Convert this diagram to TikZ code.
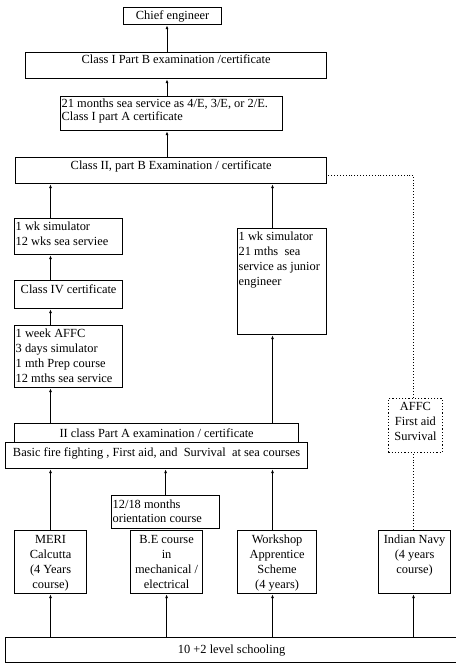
\documentclass[tikz,border=0pt]{standalone}
\usepackage{fontspec}
\setmainfont{Liberation Serif}
\usetikzlibrary{arrows.meta}

\tikzset{
  box/.style={draw, line width=1.2pt, inner sep=0pt, anchor=north west},
  dbox/.style={box, dotted, line width=0.9pt},
  txt/.style={inner sep=0pt, font=\fontsize{12.4}{15}\selectfont, align=left, anchor=north west},
  ctxt/.style={txt, align=center, anchor=north},
  up/.style={draw, line width=1pt, -{Latex[length=4pt,width=3pt]}},
  dots/.style={draw, dotted, line width=0.9pt},
}

% \drawbox[style]{name}{x1}{y1}{x2}{y2}: an empty framed box by its corners
\newcommand\drawbox[6][box]{%
  \node[#1, minimum width={(#5-#3)*1pt}, minimum height={(#6-#4)*1pt}] (#2) at (#3,#4) {};}

\begin{document}
\begin{tikzpicture}[x=1pt, y=-1pt]
\useasboundingbox (0,0) rectangle (455,663);

% column positions of the vertical connectors
\coordinate (lcol) at (50.5,0);
\coordinate (mcol) at (167,0);
\coordinate (rcol) at (272.5,0);
\coordinate (dcol) at (413.5,0);
\coordinate (dtop) at (413.5,175);

% frames
\drawbox{chief}{123}{7}{221}{24}
\drawbox{c1b}{25}{52}{326}{78}
\drawbox{c1a}{60}{96}{282}{130}
\drawbox{c2b}{15}{157}{326}{183}
\drawbox{sim1}{14}{218}{122}{254}
\drawbox{c4}{14}{280}{122}{308}
\drawbox{affc}{14}{325}{122}{387}
\drawbox{jr}{237}{228}{326}{334}
\drawbox[dbox]{navyc}{388}{398}{442}{452}
\drawbox{c2a}{14}{423}{298}{442}
\drawbox{basic}{5}{442}{307}{468}
\drawbox{orient}{111}{495}{219}{528}
\drawbox{meri}{14}{530}{86}{593}
\drawbox{be}{130}{530}{202}{593}
\drawbox{ws}{237}{530}{316}{593}
\drawbox{navy}{378}{530}{450}{593}
\drawbox{school}{5}{637}{457}{662}

% texts
\node[ctxt, anchor=center] (chief-t) at (chief.center) {Chief engineer};
\node[ctxt] (c1b-t) at ([yshift=-3pt]c1b.north) {Class I Part B examination /certificate};
\node[txt, font=\fontsize{12.4}{13}\selectfont] (c1a-t) at ([shift={(1.5pt,-3pt)}]c1a.north west)
  {21 months sea service as 4/E, 3/E, or 2/E.\\Class I part A certificate};
\node[ctxt] (c2b-t) at ([yshift=-4pt]c2b.north) {Class II, part B Examination / certificate};
\node[txt] (sim1-t) at ([shift={(1.5pt,-4pt)}]sim1.north west) {1 wk simulator\\12 wks sea serviee};
\node[ctxt] (c4-t) at ([yshift=-5pt]c4.north) {Class IV certificate};
\node[txt] (affc-t) at ([shift={(1.5pt,-4pt)}]affc.north west)
  {1 week AFFC\\3 days simulator\\1 mth Prep course\\12 mths sea service};
\node[txt] (jr-t) at ([shift={(1.5pt,-4pt)}]jr.north west)
  {1 wk simulator\\21 mths\ \ sea\\service as junior\\engineer};
\node[ctxt] (navyc-t) at ([yshift=-4pt]navyc.north) {AFFC\\First aid\\Survival};
\node[ctxt, anchor=center] (c2a-t) at (c2a.center) {II class Part A examination / certificate};
\node[ctxt] (basic-t) at ([yshift=-6pt]basic.north)
  {Basic fire fighting , First aid, and\ \ Survival\ \ at sea courses};
\node[txt, font=\fontsize{12.4}{14}\selectfont] (orient-t) at ([shift={(1.5pt,-5pt)}]orient.north west)
  {12/18 months\\orientation course};
\node[ctxt] (meri-t) at ([yshift=-5pt]meri.north) {MERI\\Calcutta\\(4 Years\\course)};
\node[ctxt] (be-t) at ([yshift=-5pt]be.north) {B.E course\\in\\mechanical /\\electrical};
\node[ctxt] (ws-t) at ([yshift=-5pt]ws.north) {Workshop\\Apprentice\\Scheme\\(4 years)};
\node[ctxt] (navy-t) at ([yshift=-5pt]navy.north) {Indian Navy\\(4 years\\course)};
\node[ctxt, anchor=center] (school-t) at (school.center) {10 +2 level schooling};

% central ladder
\draw[up] (c1b.north -| mcol) -- (chief.south -| mcol);
\draw[up] (c1a.north -| mcol) -- (c1b.south -| mcol);
\draw[up] (c2b.north -| mcol) -- (c1a.south -| mcol);

% left route
\draw[up] (sim1.north -| lcol) -- (c2b.south -| lcol);
\draw[up] (c4.north -| lcol) -- (sim1.south -| lcol);
\draw[up] (affc.north -| lcol) -- (c4.south -| lcol);
\draw[up] (c2a.north -| lcol) -- (affc.south -| lcol);
\draw[up] (meri.north -| lcol) -- (basic.south -| lcol);
\draw[up] (school.north -| lcol) -- (meri.south -| lcol);

% right route
\draw[up] (jr.north -| rcol) -- (c2b.south -| rcol);
\draw[up] (c2a.north -| rcol) -- (jr.south -| rcol);
\draw[up] (ws.north -| rcol) -- (basic.south -| rcol);
\draw[up] (school.north -| rcol) -- (ws.south -| rcol);

% B.E route
\draw[up] (orient.north) -- (basic.south -| orient.north);
\draw[up] (school.north -| be) -- (be.south);

% navy route
\draw[up] (school.north -| dcol) -- (navy.south -| dcol);
\draw[dots] (navy.north -| dcol) -- (navyc.south -| dcol);
\draw[dots] (navyc.north -| dcol) -- (dtop) -- (dtop -| c2b.east);
\end{tikzpicture}
\end{document}
